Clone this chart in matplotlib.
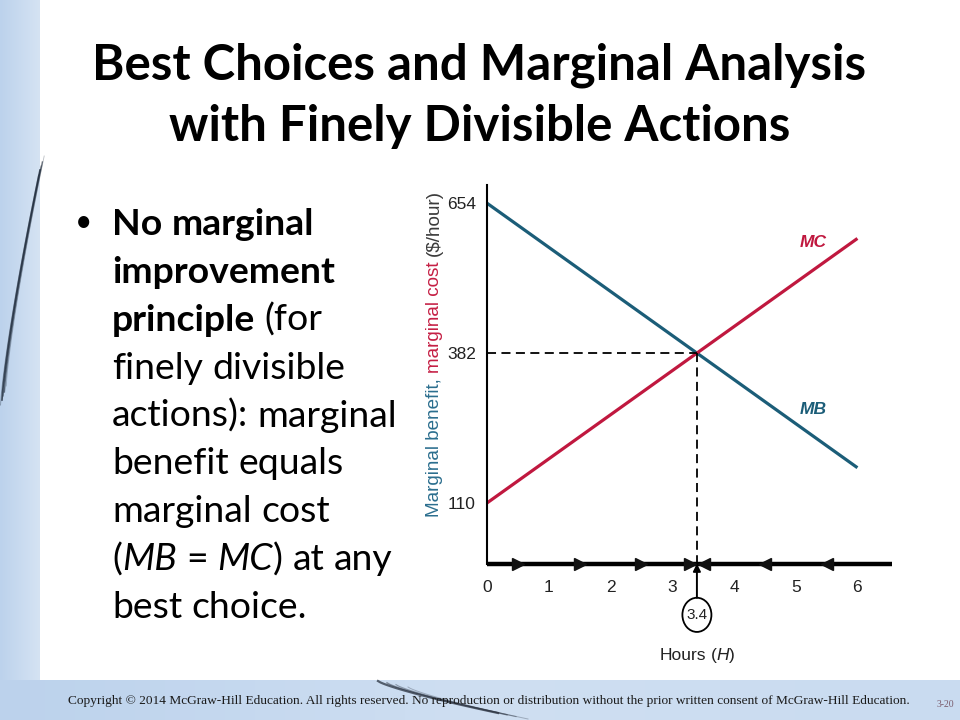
import numpy as np
import matplotlib
matplotlib.use("Agg")
import matplotlib.pyplot as plt
from matplotlib import font_manager
from matplotlib.patches import Ellipse

# chart data
hours_ticks = [0, 1, 2, 3, 4, 5, 6]
value_ticks = [110, 382, 654]
mb_hours = [0, 6]
mb_values = [654, 174]
mc_hours = [0, 6]
mc_values = [110, 590]
best_h = 3.4
best_v = 382
right_arrows = [0.5, 1.5, 2.5, 3.28]
left_arrows = [3.52, 4.5, 5.5]

title_lines = ["Best Choices and Marginal Analysis", "with Finely Divisible Actions"]
# each bullet line: list of (text, weight, style); " " = space
bullet_lines = [
    [("No", "bold", "normal"), " ", ("marginal", "bold", "normal")],
    [("improvement", "bold", "normal")],
    [("principle", "bold", "normal"), " ", ("(for", "normal", "normal")],
    [("finely", "normal", "normal"), " ", ("divisible", "normal", "normal")],
    [("actions):", "normal", "normal"), " ", ("marginal", "normal", "normal")],
    [("benefit", "normal", "normal"), " ", ("equals", "normal", "normal")],
    [("marginal", "normal", "normal"), " ", ("cost", "normal", "normal")],
    [("(", "normal", "normal"), ("MB", "normal", "italic"), " ", ("=", "normal", "normal"), " ",
     ("MC", "normal", "italic"), (")", "normal", "normal"), " ",
     ("at", "normal", "normal"), " ", ("any", "normal", "normal")],
    [("best", "normal", "normal"), " ", ("choice.", "normal", "normal")],
]
copyright_txt = ("Copyright \u00a9 2014 McGraw-Hill Education. All rights reserved. No reproduction "
                 "or distribution without the prior written consent of McGraw-Hill Education.")

MB_COL = "#1b5d78"
MC_COL = "#c0183f"

W, H = 960, 720
fig = plt.figure(figsize=(9.6, 7.2), dpi=100)
fig.patch.set_facecolor("white")
renderer = fig.canvas.get_renderer()

names = {f.name for f in font_manager.fontManager.ttflist}
narrow = "Liberation Sans Narrow" if "Liberation Sans Narrow" in names else "Liberation Sans"
sans = "Lato" if "Lato" in names else "DejaVu Sans"


def text_width(s, size, **kw):
    t = fig.text(0, 0, s, fontsize=size, **kw)
    w = t.get_window_extent(renderer).width
    t.remove()
    return w


def fit_size(s, target, **kw):
    return 20 * target / text_width(s, 20, **kw)


def draw_runs(x, y, parts, size, family, color="black", rotation=0, draw=True):
    # x, y are pixels from the top-left corner, y is the baseline
    sp = text_width("a a", size, family=family) - text_width("aa", size, family=family)
    pos = 0.0
    for p in parts:
        if p == " ":
            pos += sp
            continue
        txt, wt, st = p[:3]
        col = p[3] if len(p) > 3 else color
        if rotation == 0:
            fx, fy = (x + pos) / W, 1 - y / H
        else:
            fx, fy = x / W, 1 - (y - pos) / H
        t = fig.text(fx, fy, txt, fontsize=size, family=family, weight=wt, style=st,
                     color=col, ha="left", va="baseline", rotation=rotation,
                     rotation_mode="anchor")
        ext = t.get_window_extent(renderer)
        pos += ext.width if rotation == 0 else ext.height
        if not draw:
            t.remove()
    return pos


# background decoration
bg = fig.add_axes([0, 0, 1, 1], zorder=-5)
grad = np.linspace(0, 1, 64)[None, :]
bg.imshow(grad, extent=[0, 40, H, 0], cmap=matplotlib.colors.LinearSegmentedColormap.from_list(
    "l", ["#bcd2ec", "#d5e3f3"]), aspect="auto")
bg.imshow(grad, extent=[0, W, H, 680], cmap=matplotlib.colors.LinearSegmentedColormap.from_list(
    "b", ["#bcd2ec", "#cfdff2", "#c9dbf0"]), aspect="auto")
bg.set_xlim(0, W)
bg.set_ylim(H, 0)
bg.axis("off")
tt = np.linspace(0, 1, 50)
for off, a, lw in [(0, 0.8, 1.2), (4, 0.5, 0.8), (8, 0.6, 1.0), (-5, 0.35, 0.7), (14, 0.3, 0.6)]:
    bx = 2 + off * 0.3 + 38 * tt
    by = 400 - off - 230 * tt ** 0.8
    bg.plot(bx, by, color="#1e2a3a", alpha=a, lw=lw)
for off, a, lw in [(0, 0.75, 1.6), (3, 0.5, 1.0), (6, 0.4, 0.8), (10, 0.3, 0.7)]:
    cx = 378 + off * 3 + 120 * tt
    cy = 681 + off * 0.6 + 32 * tt ** 0.8
    bg.plot(cx, cy, color="#2a3240", alpha=a, lw=lw)

# title
tsize = fit_size(title_lines[0], 773, family=sans, weight="bold")
for i, line in enumerate(title_lines):
    fig.text(0.5 * (93 + 866) / W, 1 - (80 + 61 * i) / H, line, fontsize=tsize, family=sans,
             weight="bold", ha="center", va="baseline")

# bullet text
bsize = fit_size("actions): marginal", 286, family=sans)
fig.text(84 / W, 1 - 231 / H, "\u2022", fontsize=bsize * 0.8, family=sans, ha="center",
         va="baseline")
for i, parts in enumerate(bullet_lines):
    draw_runs(112, 235 + 47.9 * i, parts, bsize, sans)

# chart
ax = fig.add_axes([487 / W, (H - 563.6) / H, 405 / W, 378.6 / H])
ax.set_xlim(0, 6.56)
ax.set_ylim(0, 687)
ax.patch.set_alpha(0)
for s in ["top", "right"]:
    ax.spines[s].set_visible(False)
ax.spines["left"].set_linewidth(1.5)
ax.spines["bottom"].set_linewidth(3.2)
ax.spines["bottom"].set_capstyle("butt")
ax.set_xticks(hours_ticks)
ax.set_yticks(value_ticks)
ax.tick_params(length=0, labelsize=12.5)
ax.tick_params(axis="x", pad=12)
ax.tick_params(axis="y", pad=8)
for lab in ax.get_xticklabels() + ax.get_yticklabels():
    lab.set_family(narrow)
    lab.set_color("#222222")

ax.plot(mb_hours, mb_values, color=MB_COL, lw=2.3, solid_capstyle="butt")
ax.plot(mc_hours, mc_values, color=MC_COL, lw=2.3, solid_capstyle="butt")
ax.plot([0, best_h], [best_v, best_v], color="black", lw=1.3, ls=(0, (5, 3)))
ax.plot([best_h, best_h], [best_v, 0], color="black", lw=1.3, ls=(0, (5, 3)))

ax.plot(right_arrows, [0] * len(right_arrows), ls="none", marker=">", ms=9,
        color="#111111", clip_on=False, zorder=5)
ax.plot(left_arrows, [0] * len(left_arrows), ls="none", marker="<", ms=9,
        color="#111111", clip_on=False, zorder=5)

ax.text(5.28, 582, "MC", color=MC_COL, family=narrow, weight="bold", style="italic",
        fontsize=12.5, ha="center", va="center")
ax.text(5.28, 279, "MB", color=MB_COL, family=narrow, weight="bold", style="italic",
        fontsize=12.5, ha="center", va="center")

ax.add_patch(Ellipse((best_h, -93), 0.47, 62, fill=False, lw=1.3, ec="black", clip_on=False))
ax.text(best_h, -93, "3.4", family=narrow, fontsize=11, ha="center", va="center", color="#222222")
ax.annotate("", xy=(best_h, 0), xytext=(best_h, -62), annotation_clip=False,
            arrowprops=dict(arrowstyle="-|>", color="black", lw=1.4, mutation_scale=11,
                            shrinkA=0, shrinkB=0))

# x-axis title, centered under 3.4
hours_parts = [("Hours", "normal", "normal"), " ", ("(", "normal", "normal"),
               ("H", "normal", "italic"), (")", "normal", "normal")]
hsize = 12.5
hw = draw_runs(0, 660, hours_parts, hsize, narrow, draw=False)
draw_runs(697 - hw / 2, 660, hours_parts, hsize, narrow, color="#222222")

# y-axis title in three colours, rotated
ysize = fit_size("Marginal benefit, marginal cost ($/hour)", 327, family="Liberation Sans")
draw_runs(439, 517, [("Marginal benefit,", "normal", "normal", "#2b6e8e"), " ",
                     ("marginal cost", "normal", "normal", "#c51f44"), " ",
                     ("($/hour)", "normal", "normal", "#3a3a3a")],
          ysize, "Liberation Sans", rotation=90)

# footer
csize = fit_size(copyright_txt, 844, family="Liberation Serif")
fig.text(68 / W, 1 - 704 / H, copyright_txt, fontsize=csize, family="Liberation Serif",
         color="#1a1a1a", ha="left", va="baseline")
fig.text(945 / W, 1 - 707 / H, "3-20", fontsize=7, family="Liberation Serif",
         color="#7a5b6b", ha="center", va="baseline")

fig.savefig("out.png", dpi=100)
